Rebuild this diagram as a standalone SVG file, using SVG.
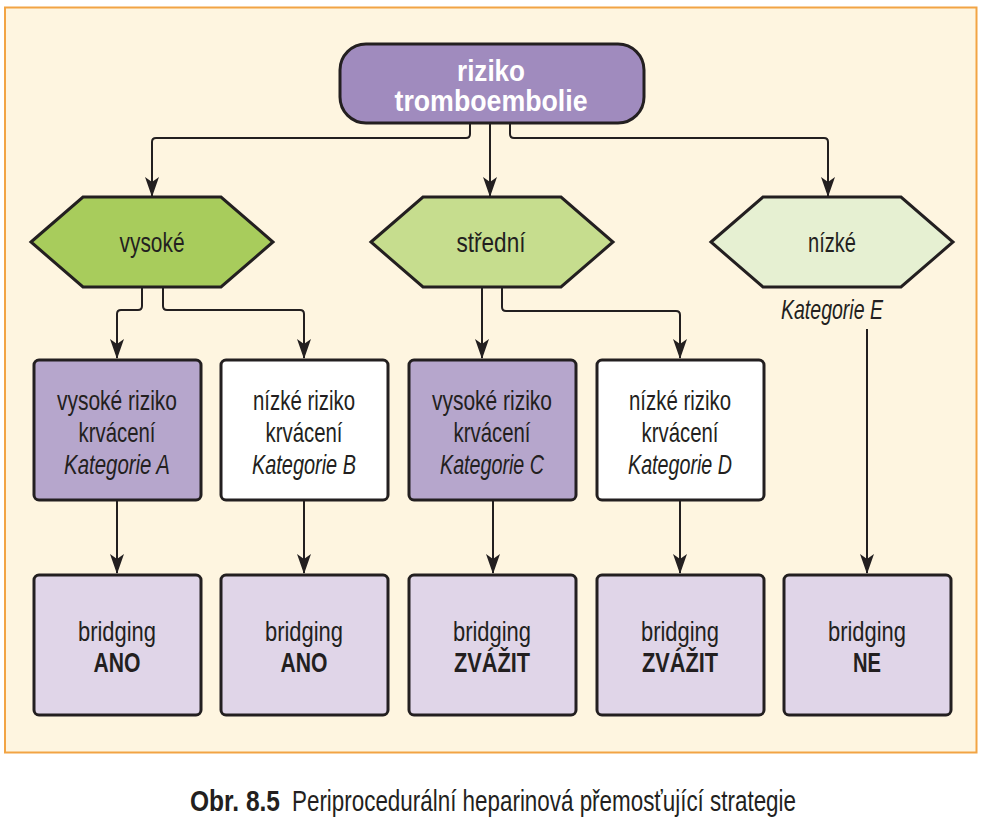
<svg xmlns="http://www.w3.org/2000/svg" width="984" height="822" viewBox="0 0 984 822">
<style>
.t{font-family:"Liberation Sans",Arial,sans-serif;font-size:28px;fill:#231F20;text-anchor:middle}
.i{font-style:italic}
.b{font-weight:bold}
.box{stroke:#231F20;stroke-width:3}
.hex{stroke:#231F20;stroke-width:3;stroke-linejoin:miter}
.ln{fill:none;stroke:#231F20;stroke-width:2}
</style>
<defs>
<marker id="ah" viewBox="0 0 20 14" markerWidth="20" markerHeight="14" refX="19" refY="7" orient="auto" markerUnits="userSpaceOnUse">
<path d="M0,0 L20,7 L0,14 L5,7 Z" fill="#231F20"/>
</marker>
</defs>
<rect x="5" y="7.5" width="971.5" height="745" fill="#FEF5E0" stroke="#F2A444" stroke-width="2"/>

<g id="connectors">
<path class="ln" marker-end="url(#ah)" d="M470,123 V134 Q470,138 466,138 H156 Q152,138 152,142 V196"/>
<path class="ln" marker-end="url(#ah)" d="M490,123 V196"/>
<path class="ln" marker-end="url(#ah)" d="M510,123 V134 Q510,138 514,138 H824 Q828,138 828,142 V196"/>
<path class="ln" marker-end="url(#ah)" d="M142,288 V306 Q142,310 138,310 H121 Q117,310 117,314 V358"/>
<path class="ln" marker-end="url(#ah)" d="M163,288 V306 Q163,310 167,310 H300 Q304,310 304,314 V358"/>
<path class="ln" marker-end="url(#ah)" d="M482,288 V358"/>
<path class="ln" marker-end="url(#ah)" d="M502,288 V307 Q502,311 506,311 H676 Q680,311 680,315 V358"/>
<path class="ln" marker-end="url(#ah)" d="M867,329 V573"/>
<path class="ln" marker-end="url(#ah)" d="M117,501 V573"/>
<path class="ln" marker-end="url(#ah)" d="M304,501 V573"/>
<path class="ln" marker-end="url(#ah)" d="M493,501 V573"/>
<path class="ln" marker-end="url(#ah)" d="M680,501 V573"/>
</g>

<g id="top">
<rect class="box" x="340" y="44" width="304" height="79" rx="26" fill="#A08BBE"/>
<text class="t b" x="491" y="81" style="font-size:30px;fill:#FFFFFF" textLength="68" lengthAdjust="spacingAndGlyphs">riziko</text>
<text class="t b" x="491" y="111" style="font-size:30px;fill:#FFFFFF" textLength="193" lengthAdjust="spacingAndGlyphs">tromboembolie</text>
</g>

<g id="hex-vysoke">
<polygon class="hex" points="31,242 83,197 221,197 273,242 221,287 83,287" fill="#A8CC5C"/>
<text class="t" x="152" y="252" textLength="65" lengthAdjust="spacingAndGlyphs">vysoké</text>
</g>
<g id="hex-stredni">
<polygon class="hex" points="371,242 423,197 561,197 613,242 561,287 423,287" fill="#C6DD8E"/>
<text class="t" x="491" y="252" textLength="69" lengthAdjust="spacingAndGlyphs">střední</text>
</g>
<g id="hex-nizke">
<polygon class="hex" points="711,242 763,197 901,197 953,242 901,287 763,287" fill="#E6F0D2"/>
<text class="t" x="832" y="252" textLength="48" lengthAdjust="spacingAndGlyphs">nízké</text>
<text class="t i" x="832" y="319" textLength="102" lengthAdjust="spacingAndGlyphs">Kategorie E</text>
</g>

<g id="boxA">
<rect class="box" x="34" y="360" width="167" height="140" rx="5" fill="#B6A6CC"/>
<text class="t" x="117" y="410" textLength="120" lengthAdjust="spacingAndGlyphs">vysoké riziko</text>
<text class="t" x="117" y="442" textLength="77" lengthAdjust="spacingAndGlyphs">krvácení</text>
<text class="t i" x="117" y="474" textLength="106" lengthAdjust="spacingAndGlyphs">Kategorie A</text>
</g>
<g id="boxB">
<rect class="box" x="221" y="360" width="167" height="140" rx="5" fill="#FFFFFF"/>
<text class="t" x="304" y="410" textLength="102" lengthAdjust="spacingAndGlyphs">nízké riziko</text>
<text class="t" x="304" y="442" textLength="77" lengthAdjust="spacingAndGlyphs">krvácení</text>
<text class="t i" x="304" y="474" textLength="104" lengthAdjust="spacingAndGlyphs">Kategorie B</text>
</g>
<g id="boxC">
<rect class="box" x="409" y="360" width="167" height="140" rx="5" fill="#B6A6CC"/>
<text class="t" x="492" y="410" textLength="120" lengthAdjust="spacingAndGlyphs">vysoké riziko</text>
<text class="t" x="492" y="442" textLength="77" lengthAdjust="spacingAndGlyphs">krvácení</text>
<text class="t i" x="492" y="474" textLength="104" lengthAdjust="spacingAndGlyphs">Kategorie C</text>
</g>
<g id="boxD">
<rect class="box" x="597" y="360" width="167" height="140" rx="5" fill="#FFFFFF"/>
<text class="t" x="680" y="410" textLength="102" lengthAdjust="spacingAndGlyphs">nízké riziko</text>
<text class="t" x="680" y="442" textLength="77" lengthAdjust="spacingAndGlyphs">krvácení</text>
<text class="t i" x="680" y="474" textLength="104" lengthAdjust="spacingAndGlyphs">Kategorie D</text>
</g>

<g id="bridgeA">
<rect class="box" x="34" y="575" width="167" height="140" rx="5" fill="#E0D5E8"/>
<text class="t" x="117" y="641" textLength="78" lengthAdjust="spacingAndGlyphs">bridging</text>
<text class="t b" x="117" y="672" textLength="47" lengthAdjust="spacingAndGlyphs">ANO</text>
</g>
<g id="bridgeB">
<rect class="box" x="221" y="575" width="167" height="140" rx="5" fill="#E0D5E8"/>
<text class="t" x="304" y="641" textLength="78" lengthAdjust="spacingAndGlyphs">bridging</text>
<text class="t b" x="304" y="672" textLength="47" lengthAdjust="spacingAndGlyphs">ANO</text>
</g>
<g id="bridgeC">
<rect class="box" x="409" y="575" width="167" height="140" rx="5" fill="#E0D5E8"/>
<text class="t" x="492" y="641" textLength="78" lengthAdjust="spacingAndGlyphs">bridging</text>
<text class="t b" x="492" y="672" textLength="76" lengthAdjust="spacingAndGlyphs">ZVÁŽIT</text>
</g>
<g id="bridgeD">
<rect class="box" x="597" y="575" width="167" height="140" rx="5" fill="#E0D5E8"/>
<text class="t" x="680" y="641" textLength="78" lengthAdjust="spacingAndGlyphs">bridging</text>
<text class="t b" x="680" y="672" textLength="76" lengthAdjust="spacingAndGlyphs">ZVÁŽIT</text>
</g>
<g id="bridgeE">
<rect class="box" x="784" y="575" width="167" height="140" rx="5" fill="#E0D5E8"/>
<text class="t" x="867" y="641" textLength="78" lengthAdjust="spacingAndGlyphs">bridging</text>
<text class="t b" x="867" y="672" textLength="28" lengthAdjust="spacingAndGlyphs">NE</text>
</g>

<g id="caption">
<text class="t b" x="190" y="811" style="text-anchor:start;font-size:29px" textLength="90" lengthAdjust="spacingAndGlyphs">Obr. 8.5</text>
<text class="t" x="292" y="811" style="text-anchor:start;font-size:29px" textLength="504" lengthAdjust="spacingAndGlyphs">Periprocedurální heparinová přemosťující strategie</text>
</g>
</svg>
